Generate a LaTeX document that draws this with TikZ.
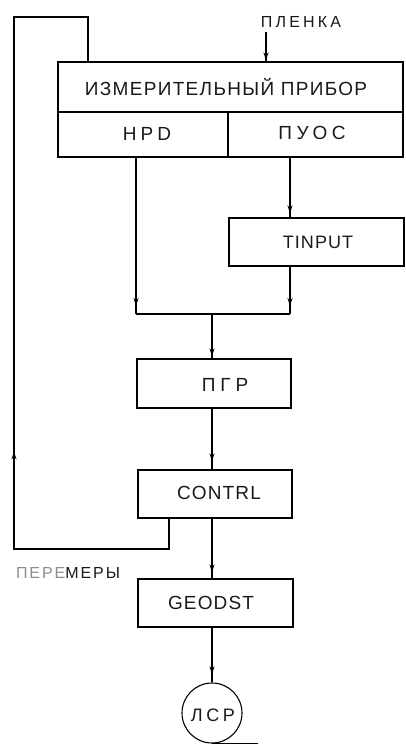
\documentclass[tikz,border=0pt]{standalone}
\usepackage{fontspec}
\setmainfont{Liberation Sans}
\usetikzlibrary{arrows.meta,decorations.markings}
\begin{document}
\begin{tikzpicture}[x=1pt,y=-1pt,
  ln/.style={line width=1.1pt,black},
  arrat/.style={postaction={decorate},decoration={markings,mark=at position #1 with {\arrow{Stealth[length=8pt,width=5pt]}}}},
  lbl/.style={inner sep=0pt,text=black!90},
  bx/.style={draw,line width=1.1pt,inner sep=0pt}]
\useasboundingbox (0,0) rectangle (405,745);
% boxes
\node[bx,minimum width=345pt,minimum height=50pt] (izm) at (230.5,87) {};
\node[bx,minimum width=170pt,minimum height=45pt] (hpd) at (143,134.5) {};
\node[bx,minimum width=175pt,minimum height=45pt] (puos) at (315.5,134.5) {};
\node[bx,minimum width=175pt,minimum height=48pt] (tin) at (316.5,242) {};
\node[bx,minimum width=154pt,minimum height=49pt] (pgr) at (214,383.5) {};
\node[bx,minimum width=154pt,minimum height=48pt] (ctl) at (215,494) {};
\node[bx,minimum width=155pt,minimum height=48pt] (geo) at (215.5,603) {};
\node[draw,circle,line width=1.1pt,minimum size=60pt,inner sep=0pt] (lsr) at (212,713) {};
% texts
\node[lbl,font=\fontsize{19}{19}\selectfont\addfontfeature{LetterSpace=7}] (tizm) at (226,87) {ИЗМЕРИТЕЛЬНЫЙ ПРИБОР};
\node[lbl,font=\fontsize{19}{19}\selectfont\addfontfeature{LetterSpace=22}] (thpd) at (147,134) {HPD};
\node[lbl,font=\fontsize{19}{19}\selectfont\addfontfeature{LetterSpace=24}] (tpuos) at (312,133) {ПУОС};
\node[lbl,font=\fontsize{18}{18}\selectfont\addfontfeature{LetterSpace=6}] (ttin) at (318,242) {TINPUT};
\node[lbl,font=\fontsize{19}{19}\selectfont\addfontfeature{LetterSpace=26}] (tpgr) at (225,385) {ПГР};
\node[lbl,font=\fontsize{19}{19}\selectfont\addfontfeature{LetterSpace=6}] (tctl) at (219,493) {CONTRL};
\node[lbl,font=\fontsize{19}{19}\selectfont\addfontfeature{LetterSpace=6}] (tgeo) at (211,603) {GEODST};
\node[lbl,font=\fontsize{18}{18}\selectfont\addfontfeature{LetterSpace=20}] (tlsr) at (213,715) {ЛСР};
\node[lbl,font=\fontsize{16}{16}\selectfont\addfontfeature{LetterSpace=20}] (tplen) at (301,22) {ПЛЕНКА};
\node[lbl,font=\fontsize{16}{16}\selectfont\addfontfeature{LetterSpace=12}] (tper) at (68,573) {{\color{black!45}ПЕРЕ}МЕРЫ};
% coordinates
\coordinate (j1) at (136,314);
\coordinate (j2) at (290,314);
\coordinate (jm) at (212,314);
\coordinate (plen) at (266,32);
\coordinate (l1) at (169,549);
\coordinate (l2) at (14,549);
\coordinate (l3) at (14,17);
\coordinate (l4) at (88,17);
% connectors
\draw[ln,arrat=-1pt] (plen) -- (plen |- izm.north);
\draw[ln,arrat=-8pt] (hpd.south -| j1) -- (j1);
\draw[ln,arrat=-4pt] (puos.south -| j2) -- (tin.north -| j2);
\draw[ln,arrat=-8pt] (tin.south -| j2) -- (j2);
\draw[ln] (j1) -- (j2);
\draw[ln,arrat=-2pt] (jm) -- (pgr.north -| jm);
\draw[ln,arrat=-8pt] (pgr.south -| jm) -- (ctl.north -| jm);
\draw[ln,arrat=-6pt] (ctl.south -| jm) -- (geo.north -| jm);
\draw[ln,arrat=-8pt] (geo.south -| jm) -- (lsr.north);
\draw[ln,arrat=283pt] (ctl.south -| l1) -- (l1) -- (l2) -- (l3) -- (l4) -- (izm.north -| l4);
\draw[ln] (lsr.south) -- ++(46,0);
\end{tikzpicture}
\end{document}
